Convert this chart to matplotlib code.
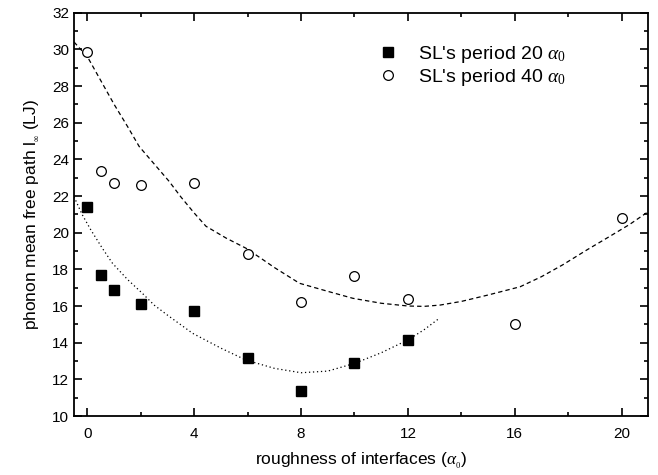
import matplotlib
matplotlib.use('Agg')
import matplotlib.pyplot as plt
from matplotlib.ticker import MultipleLocator

plt.rcParams['font.family'] = ['Liberation Sans', 'DejaVu Sans']
plt.rcParams['mathtext.fontset'] = 'custom'
plt.rcParams['mathtext.rm'] = 'Liberation Serif'
plt.rcParams['mathtext.it'] = 'Liberation Serif:italic'

# measured points
rough_20 = [0, 0.5, 1, 2, 4, 6, 8, 10, 12]
mfp_20 = [21.42, 17.69, 16.89, 16.13, 15.71, 13.16, 11.36, 12.91, 14.15]

rough_40 = [0, 0.5, 1, 2, 4, 6, 8, 10, 12, 16, 20]
mfp_40 = [29.87, 23.37, 22.7, 22.6, 22.73, 18.84, 16.24, 17.65, 16.37, 15.03, 20.82]

# fitted guide curves
fit40_x = [-0.5, 0, 0.5, 1, 1.5, 1.94, 2.5, 3.06, 3.5, 4, 4.44, 5.2, 5.94, 6.5, 7, 7.94, 9, 9.94,
           11, 12, 12.6, 13.2, 14, 15, 16.2, 17, 17.8, 18.7, 19.5, 20.3, 21]
fit40_y = [30.4, 29.6, 28.3, 27.0, 25.8, 24.7, 23.75, 22.8, 21.95, 21.07, 20.35, 19.7, 19.15, 18.6,
           18.1, 17.24, 16.8, 16.42, 16.15, 16.0, 15.98, 16.05, 16.25, 16.6, 17.05, 17.6, 18.25,
           19.06, 19.75, 20.45, 21.15]

fit20_x = [-0.5, -0.2, 0.13, 0.56, 0.94, 1.5, 2.06, 2.5, 3.0, 3.94, 5.0, 5.94, 7.0, 8.0, 9.0, 10.0,
           11.0, 12.0, 12.6, 13.12]
fit20_y = [21.96, 21.0, 20.15, 19.15, 18.33, 17.45, 16.69, 16.05, 15.5, 14.51, 13.7, 13.05, 12.6,
           12.36, 12.45, 12.87, 13.45, 14.15, 14.7, 15.27]

fig = plt.figure(figsize=(6.58, 4.75), dpi=100)
ax = fig.add_axes([0.1125, 0.1242, 0.8728, 0.8491])

ax.plot(fit40_x, fit40_y, color='black', lw=0.9, ls=(0, (3.5, 2.5)))
ax.plot(fit20_x, fit20_y, color='black', lw=0.9, ls=(0, (1, 2.2)))

ax.plot(rough_20, mfp_20, ls='none', marker='s', ms=6.8, mfc='black', mec='black',
        label=r"SL's period 20 $\alpha_0$")
ax.plot(rough_40, mfp_40, ls='none', marker='o', ms=7, mfc='white', mec='black',
        mew=0.9, label=r"SL's period 40 $\alpha_0$")

ax.set_xlim(-0.5, 21)
ax.set_ylim(10, 32)
ax.xaxis.set_major_locator(MultipleLocator(4))
ax.xaxis.set_minor_locator(MultipleLocator(2))
ax.yaxis.set_major_locator(MultipleLocator(2))
ax.yaxis.set_minor_locator(MultipleLocator(1))
ax.tick_params(which='both', direction='in', top=True, right=True, width=1.2, labelsize=11)
ax.tick_params(which='major', length=6)
ax.tick_params(which='minor', length=3)
ax.tick_params(axis='x', pad=8)
for s in ax.spines.values():
    s.set_linewidth(1.3)

ax.set_xlabel(r"roughness of interfaces ($\alpha_{_0}$)", fontsize=12.5, labelpad=7)
ax.set_ylabel(r"phonon mean free path l$_{_\infty}$ (LJ)", fontsize=12.5, labelpad=8)

ax.legend(loc='upper left', frameon=False, fontsize=14, handlelength=1.0, handletextpad=1.05,
          borderaxespad=0, borderpad=0, bbox_to_anchor=(0.529, 0.922), labelspacing=0.1)

fig.savefig('out.png', dpi=100)
